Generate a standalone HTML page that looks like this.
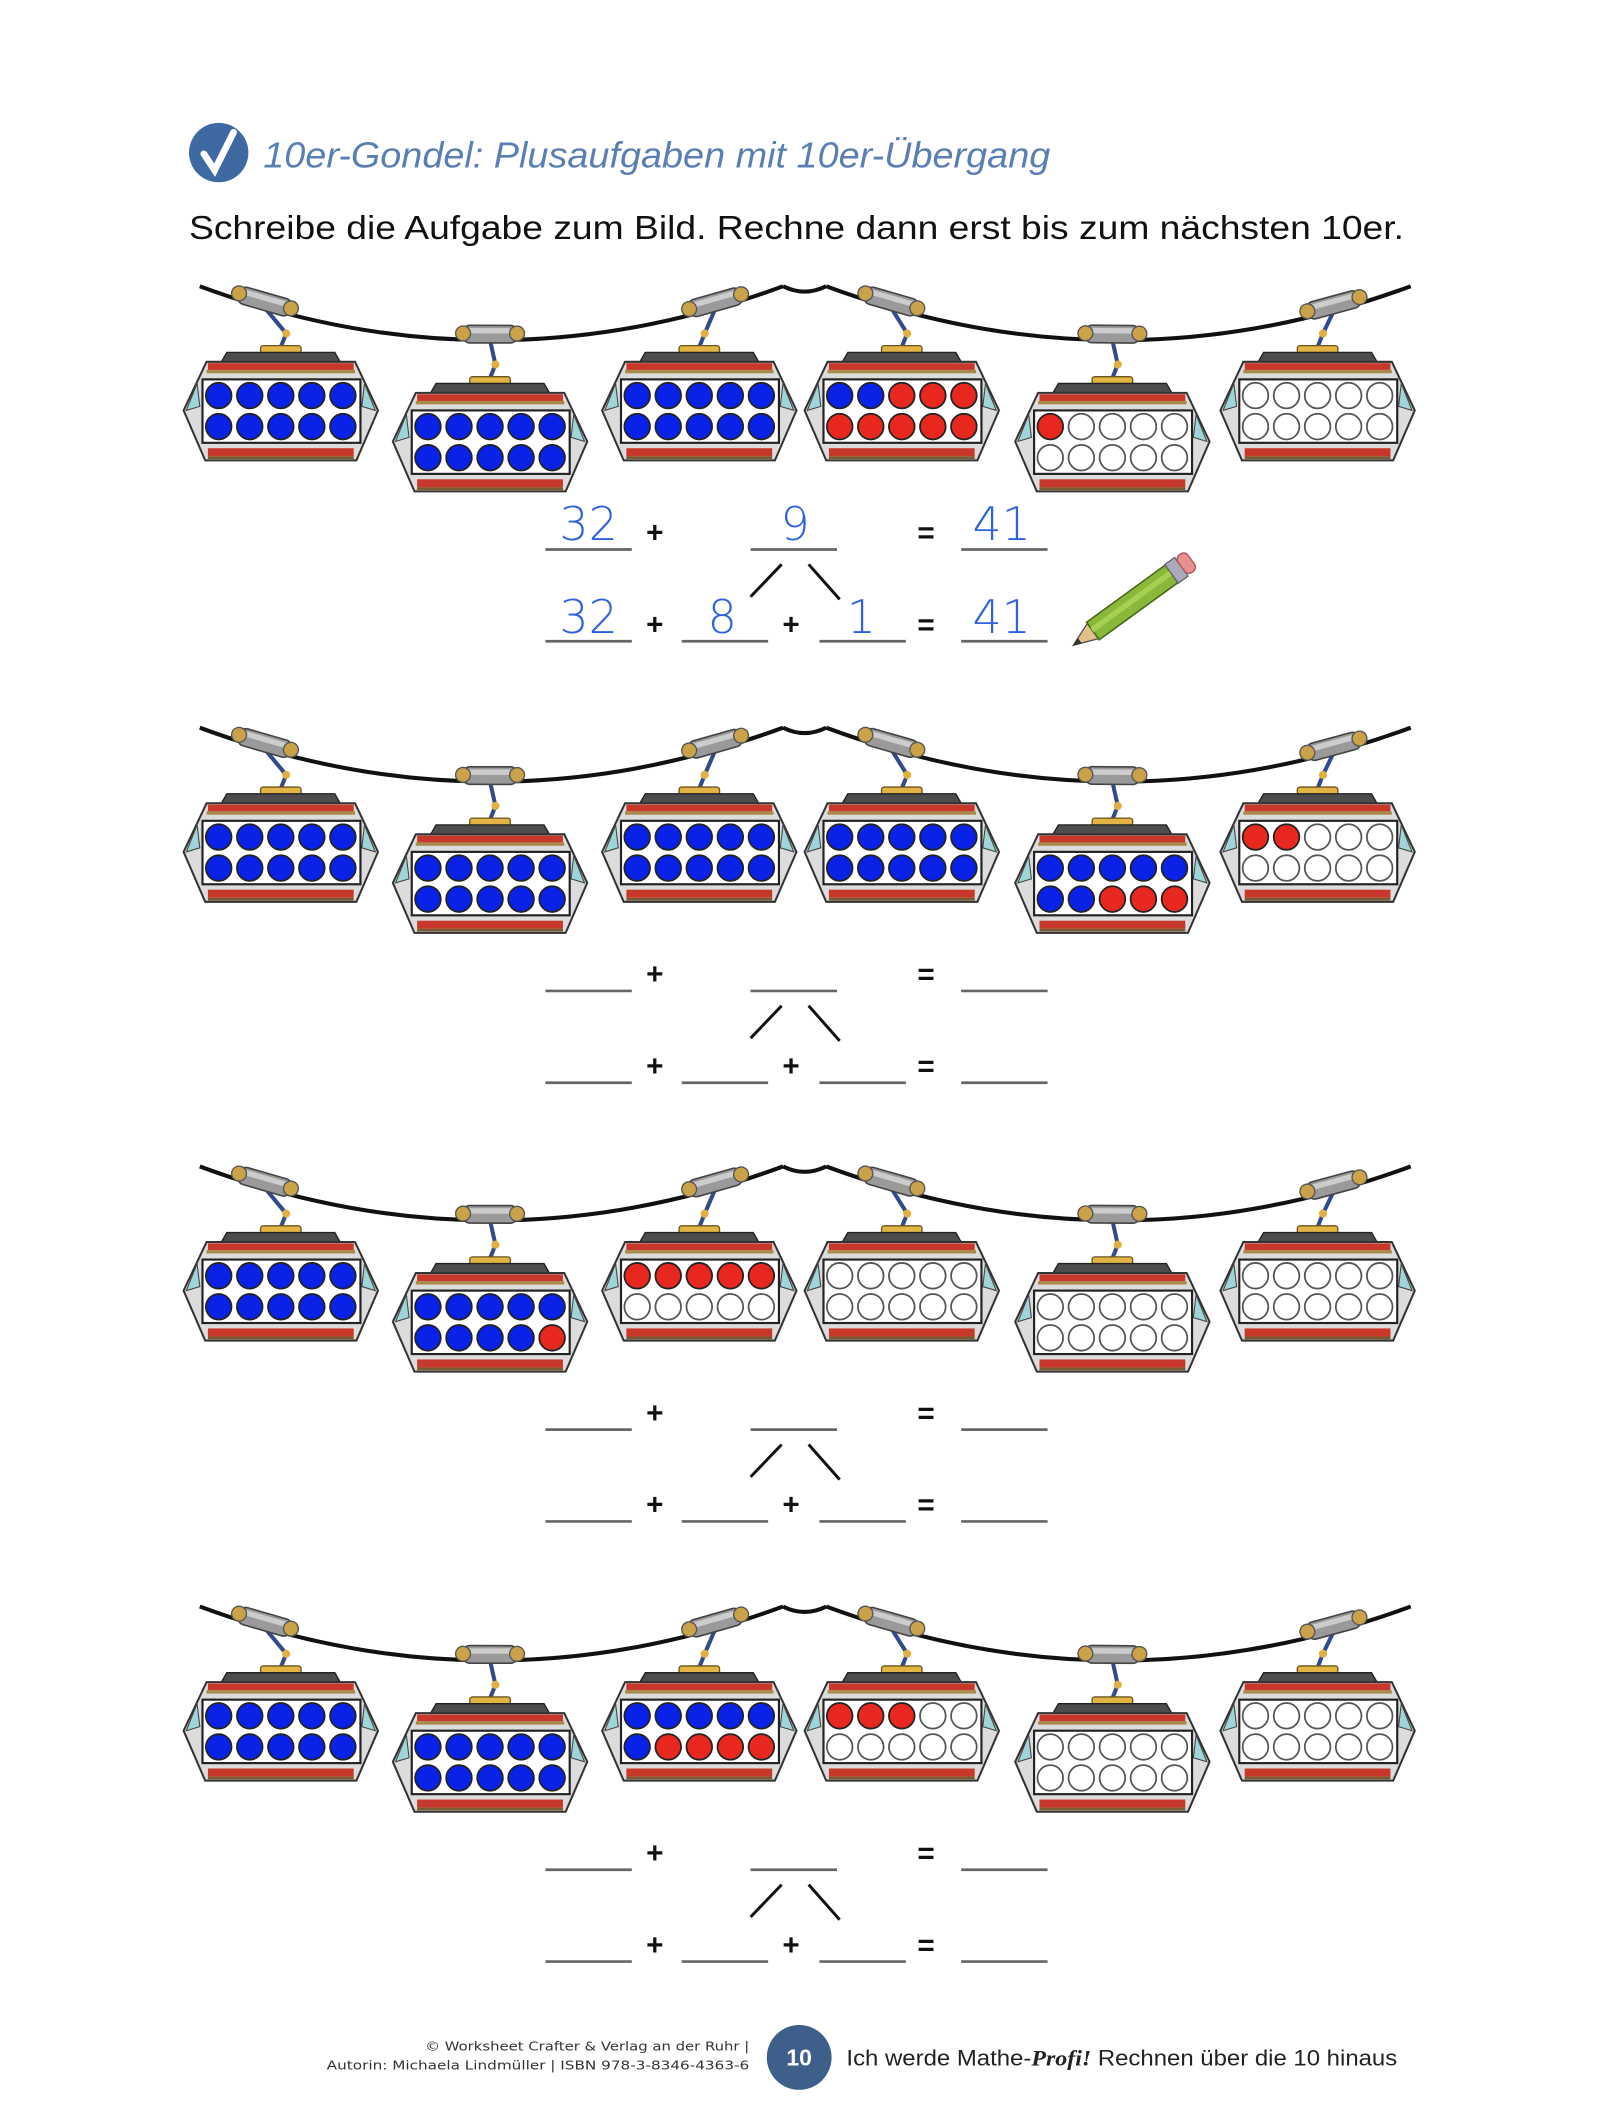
<!DOCTYPE html>
<html><head><meta charset="utf-8">
<style>
html,body{margin:0;padding:0;background:#fff;}
svg{display:block;}
.hw{font-family:"DejaVu Sans","Liberation Sans",sans-serif;fill:#2f62e0;font-size:34px;font-weight:300;}
.op{font-family:"Liberation Sans",sans-serif;font-weight:bold;font-size:22px;fill:#111;}
</style></head>
<body>
<svg id="s" width="1600" height="2109" viewBox="0 0 1185.2 1562.2" xmlns="http://www.w3.org/2000/svg">
<rect width="1185.2" height="1562.2" fill="#fff"/>
<circle cx="162" cy="113" r="22" fill="#3e69a3"/>
<path d="M151 114 L159 126 L173 98" stroke="#fff" stroke-width="5" fill="none" stroke-linecap="round"/>
<text x="195" y="124" font-family="Liberation Sans, sans-serif" font-style="italic" font-size="27" fill="#5a7fb5" textLength="583" lengthAdjust="spacingAndGlyphs">10er-Gondel: Plusaufgaben mit 10er-Übergang</text>
<text x="140" y="177" font-family="Liberation Sans, sans-serif" font-size="25" fill="#111" textLength="900" lengthAdjust="spacingAndGlyphs">Schreibe die Aufgabe zum Bild. Rechne dann erst bis zum nächsten 10er.</text>
<g id="rows"></g>

<!-- row 1 handwritten answers -->
<text class="hw" x="436" y="400" text-anchor="middle">32</text>
<text class="hw" x="589" y="400" text-anchor="middle">9</text>
<text class="hw" x="742" y="400" text-anchor="middle">41</text>
<text class="hw" x="436" y="469" text-anchor="middle">32</text>
<text class="hw" x="535" y="469" text-anchor="middle">8</text>
<text class="hw" x="638" y="469" text-anchor="middle">1</text>
<text class="hw" x="742" y="469" text-anchor="middle">41</text>
<!-- pencil -->
<g transform="translate(795,478) rotate(-36)">
<polygon points="0,0 18,-7 18,7" fill="#e2c08a" stroke="#555" stroke-width="1"/>
<polygon points="0,0 6,-2.5 6,2.5" fill="#333"/>
<rect x="18" y="-8" width="72" height="16" fill="#8ab83a" stroke="#4a6a1a" stroke-width="1.2"/>
<rect x="18" y="-3" width="72" height="4" fill="#a8d050"/>
<rect x="90" y="-8.5" width="9" height="17" fill="#aab" stroke="#666"/>
<rect x="99" y="-8" width="9" height="16" rx="4" fill="#e89090" stroke="#a55"/>
</g>

<!-- footer -->
<text x="555" y="1519" text-anchor="end" font-family="DejaVu Sans, sans-serif" font-size="9.5" fill="#333" textLength="240" lengthAdjust="spacingAndGlyphs">© Worksheet Crafter &amp; Verlag an der Ruhr |</text>
<text x="555" y="1533" text-anchor="end" font-family="DejaVu Sans, sans-serif" font-size="9.5" fill="#333" textLength="313" lengthAdjust="spacingAndGlyphs">Autorin: Michaela Lindmüller | ISBN 978-3-8346-4363-6</text>
<circle cx="592" cy="1524" r="24" fill="#3e5f8a"/>
<text x="592" y="1530" text-anchor="middle" font-family="Liberation Sans, sans-serif" font-size="17" font-weight="bold" fill="#fff">10</text>
<text x="627" y="1530" font-family="Liberation Sans, sans-serif" font-size="16.5" fill="#222" textLength="408" lengthAdjust="spacingAndGlyphs">Ich werde Mathe-<tspan font-family="Liberation Serif, serif" font-style="italic" font-weight="bold">Profi!</tspan> Rechnen über die 10 hinaus</text>
</svg>
<script>
var g=document.getElementById("rows");
var h="";
var offs=[0,327,652,978];
var cxs=[208,363,518,668,824,976];
var data=[
["BBBBBBBBBB","BBBBBBBBBB","BBBBBBBBBB","BBRRRRRRRR","ROOOOOOOOO","OOOOOOOOOO"],
["BBBBBBBBBB","BBBBBBBBBB","BBBBBBBBBB","BBBBBBBBBB","BBBBBBBRRR","RROOOOOOOO"],
["BBBBBBBBBB","BBBBBBBBBR","RRRRROOOOO","OOOOOOOOOO","OOOOOOOOOO","OOOOOOOOOO"],
["BBBBBBBBBB","BBBBBBBBBB","BBBBBBRRRR","RRROOOOOOO","OOOOOOOOOO","OOOOOOOOOO"]];
function cab(x,a){
 var x0=a?612:148,x1=a?1045:580,c=292;var t=(x-x0)/(x1-x0);
 var y=212*(1-t)*(1-t)+2*c*t*(1-t)+212*t*t;
 var dy=(2*(c-212)*(1-t)-2*(c-212)*t)/(x1-x0);
 return [y,Math.atan(dy)*180/Math.PI];}
for(var r=0;r<4;r++){
 var o=offs[r];
 h+='<g transform="translate(0,'+o+')">';
 h+='<path d="M148,212 Q364,292 580,212 M612,212 Q828,292 1045,212" fill="none" stroke="#111" stroke-width="3"/>';
 h+='<path d="M580,212 Q596,220 612,212" fill="none" stroke="#111" stroke-width="3"/>';
 for(var i=0;i<6;i++){
  var cx=cxs[i];var low=(i==1||i==4);var T=low?284:261;
  var gx=low?cx:(i%3==0?cx-12:cx+12);
  if(i==3) gx=cx-8; if(i==2) gx=cx+12;
  var a=cab(gx,i>=3?1:0);var gy=a[0]-4;
  h+='<path d="M'+gx+','+(gy+4)+' L'+(cx+4)+','+(T-14)+' L'+cx+','+(T-4)+'" stroke="#334a8a" stroke-width="3" fill="none"/>';
  h+='<circle cx="'+(cx+4)+'" cy="'+(T-14)+'" r="3" fill="#e0b040"/>';
  h+='<g transform="translate('+gx+','+gy+') rotate('+a[1]+')"><rect x="-20" y="-7" width="40" height="13" rx="5" fill="#9a9a9a" stroke="#444" stroke-width="1.2"/><rect x="-16" y="-5" width="32" height="4" fill="#ccc"/><circle cx="-20" cy="-1" r="5.5" fill="#c9a24a" stroke="#555"/><circle cx="20" cy="-1" r="5.5" fill="#c9a24a" stroke="#555"/></g>';
  h+='<rect x="'+(cx-15)+'" y="'+(T-5)+'" width="30" height="6" rx="2" fill="#e2b443" stroke="#6a5520"/>';
  h+='<path d="M'+(cx-44)+','+(T+7)+' L'+(cx-40)+','+T+' L'+(cx+40)+','+T+' L'+(cx+44)+','+(T+7)+'Z" fill="#4d4d4d" stroke="#222"/>';
  h+='<path d="M'+(cx-55)+','+(T+7)+' L'+(cx+55)+','+(T+7)+' L'+(cx+72)+','+(T+43)+' L'+(cx+56)+','+(T+80)+' L'+(cx-56)+','+(T+80)+' L'+(cx-72)+','+(T+43)+'Z" fill="#dcdcdc" stroke="#333" stroke-width="1.5"/>';
  h+='<path d="M'+(cx-62)+','+(T+23)+' L'+(cx-70)+','+(T+43)+' L'+(cx-60)+','+(T+40)+'Z M'+(cx+62)+','+(T+23)+' L'+(cx+70)+','+(T+43)+' L'+(cx+60)+','+(T+40)+'Z" fill="#9fd4d8" stroke="#444" stroke-width="0.8"/>';
  h+='<rect x="'+(cx-54)+'" y="'+(T+8)+'" width="108" height="5" fill="#c8382a"/>';
  h+='<rect x="'+(cx-55)+'" y="'+(T+13)+'" width="110" height="2.5" fill="#a88a4a"/>';
  h+='<rect x="'+(cx-58)+'" y="'+(T+20)+'" width="117" height="47" fill="#fff" stroke="#222" stroke-width="1.6"/>';
  h+='<rect x="'+(cx-54)+'" y="'+(T+71)+'" width="108" height="6" fill="#c8382a"/>';
  h+='<rect x="'+(cx-54)+'" y="'+(T+77)+'" width="108" height="2" fill="#7a5a30"/>';
  var d=data[r][i];
  for(var k=0;k<10;k++){
   var c=d[k];var dx=cx-46+23*(k%5);var dyy=T+(k<5?32:55);
   var f=c=="B"?"#0a22e8":(c=="R"?"#e8281e":"#fff");
   h+='<circle cx="'+dx+'" cy="'+dyy+'" r="9.5" fill="'+f+'" stroke="'+(c=="O"?"#555":"#222")+'" stroke-width="1.3"/>';
  }
 }
 var l1=407,l2=475;
 var ln=function(x1,x2,y){return '<line x1="'+x1+'" y1="'+y+'" x2="'+x2+'" y2="'+y+'" stroke="#666" stroke-width="2"/>';};
 h+=ln(404,468,l1)+ln(556,620,l1)+ln(712,776,l1);
 h+=ln(404,468,l2)+ln(505,569,l2)+ln(607,671,l2)+ln(712,776,l2);
 h+='<text class="op" x="485" y="402" text-anchor="middle">+</text><text class="op" x="686" y="402" text-anchor="middle">=</text>';
 h+='<text class="op" x="485" y="470" text-anchor="middle">+</text><text class="op" x="586" y="470" text-anchor="middle">+</text><text class="op" x="686" y="470" text-anchor="middle">=</text>';
 h+='<line x1="579" y1="418" x2="556" y2="442" stroke="#111" stroke-width="2.2"/><line x1="599" y1="418" x2="622" y2="444" stroke="#111" stroke-width="2.2"/>';
 h+='</g>';
}
g.innerHTML=h;
</script>
</body></html>
